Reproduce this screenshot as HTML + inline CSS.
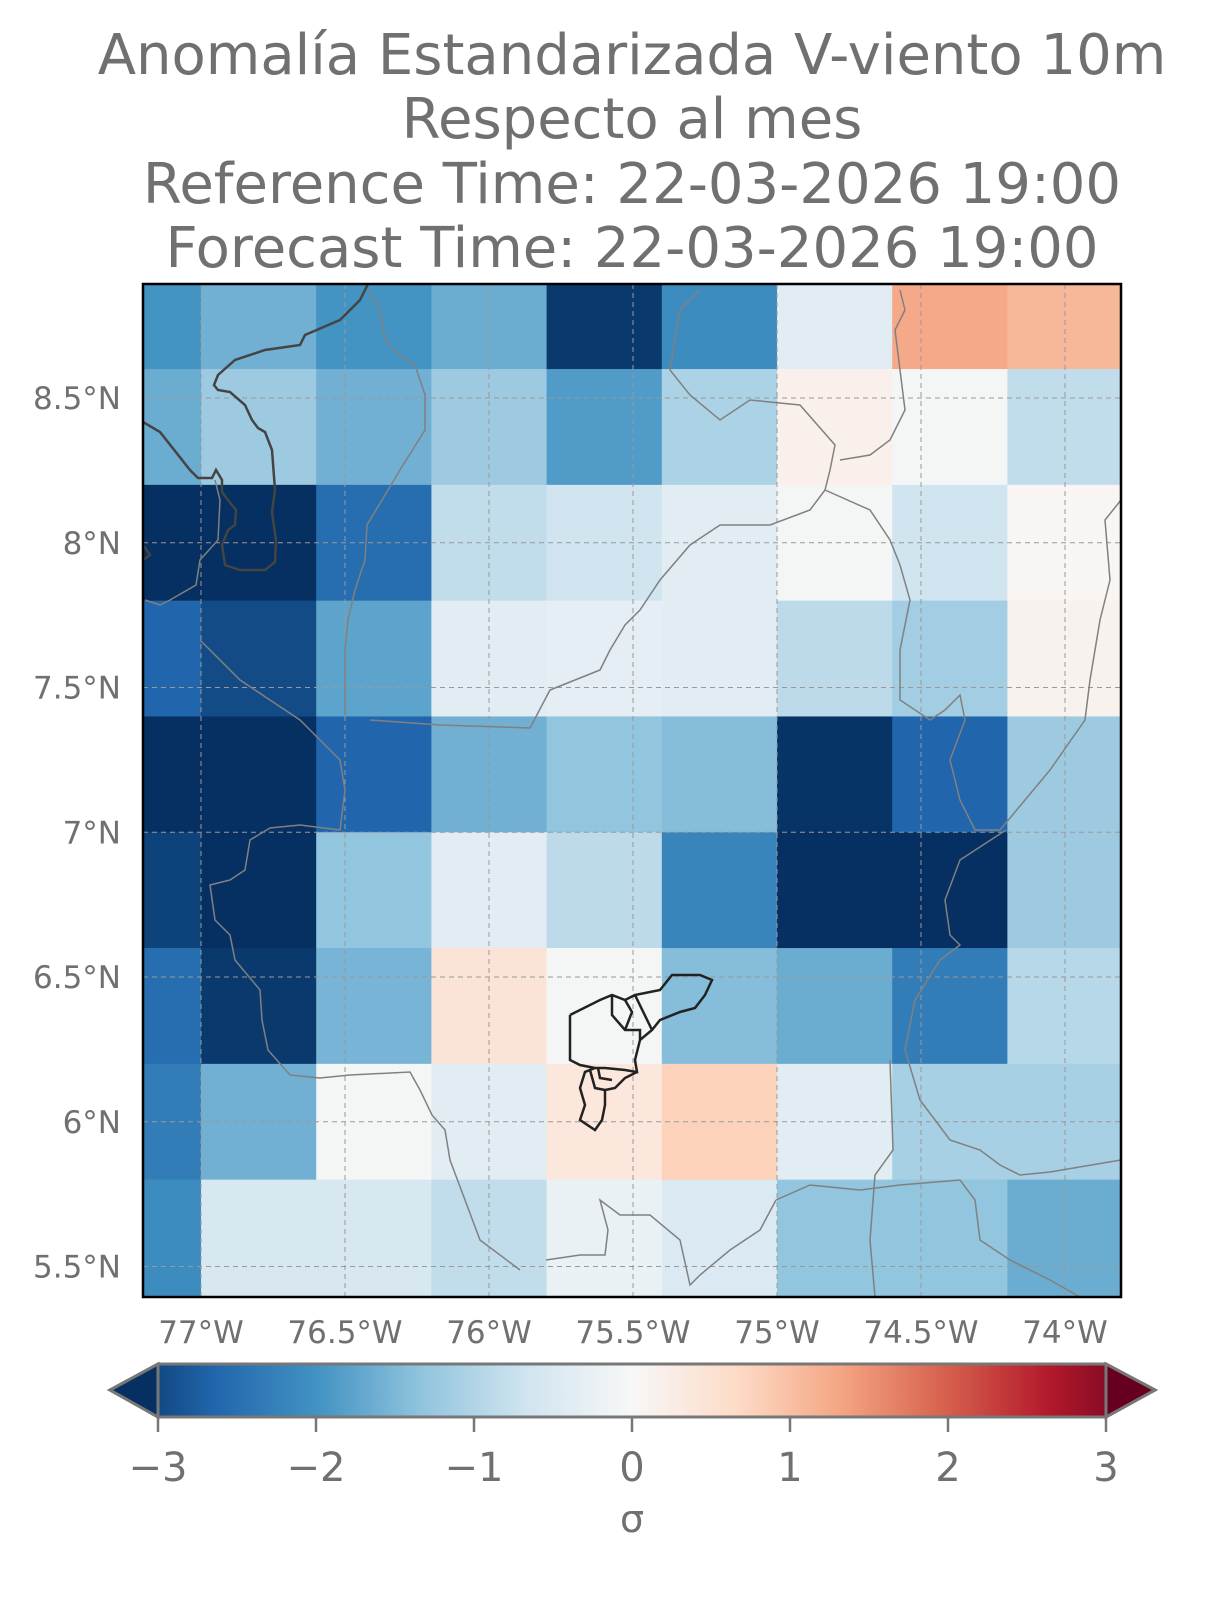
<!DOCTYPE html>
<html><head><meta charset="utf-8"><style>
html,body{margin:0;padding:0;background:#fff;}
svg{display:block;font-family:"DejaVu Sans","Liberation Sans",sans-serif;}
</style></head><body>
<svg id="chart" width="1230" height="1598" viewBox="0 0 1230 1598">
<defs>
<linearGradient id="cmap" x1="0" x2="1" y1="0" y2="0">
<stop offset="0" stop-color="#053061"/><stop offset="0.1" stop-color="#2166ac"/><stop offset="0.2" stop-color="#4393c3"/><stop offset="0.3" stop-color="#92c5de"/><stop offset="0.4" stop-color="#d1e5f0"/><stop offset="0.5" stop-color="#f7f7f7"/><stop offset="0.6" stop-color="#fddbc7"/><stop offset="0.7" stop-color="#f4a582"/><stop offset="0.8" stop-color="#d6604d"/><stop offset="0.9" stop-color="#b2182b"/><stop offset="1" stop-color="#67001f"/>
</linearGradient>
<clipPath id="mapclip"><rect x="143" y="284" width="978" height="1013"/></clipPath>
</defs>
<g fill="#707070" font-size="56" text-anchor="middle">
<text x="632" y="74">Anomalía Estandarizada V-viento 10m</text>
<text x="632" y="138">Respecto al mes</text>
<text x="632" y="203">Reference Time: 22-03-2026 19:00</text>
<text x="632" y="267">Forecast Time: 22-03-2026 19:00</text>
</g>
<g id="cells" clip-path="url(#mapclip)"></g>
<g id="grid" clip-path="url(#mapclip)"></g>
<g clip-path="url(#mapclip)" fill="none" stroke="#808080" stroke-width="1.5">
<path d="M143,422 L160,432 L190,470 L198,478 L212,478 L216,470 L222,480 L222,492 L228,500 L236,510 L235,525 L228,530 L222,545 L225,565 L240,570 L265,570 L275,562 L276,540 L272,512 L275,490 L272,450 L265,432 L258,428 L252,420 L245,405 L230,392 L218,390 L214,385 L218,375 L235,360 L265,350 L300,345 L305,335 L340,320 L360,300 L368,284" stroke="#444" stroke-width="2.5"/>
<path d="M143,545 L150,555 L143,560" stroke="#444" stroke-width="2.5"/>
<path d="M368,290 L380,310 L385,340 L400,355 L415,365 L425,395 L425,430 L400,470 L385,495 L367,525 L365,560 L355,590 L348,620 L345,650 L345,690 L345,715"/>
<path d="M215,480 L220,500 L218,540 L200,560 L196,585 L170,600 L160,605 L145,600"/>
<path d="M200,640 L240,680 L270,700 L300,720 L320,740 L340,760 L345,790 L340,830 L300,825 L270,828 L250,840 L245,870 L230,880 L210,885 L215,920 L230,935 L235,960 L260,990 L262,1020 L268,1050 L290,1075 L320,1078 L350,1075 L410,1072 L420,1090 L432,1115 L445,1130 L450,1160 L465,1200 L480,1240 L520,1270"/>
<path d="M370,720 L440,725 L530,728 L550,690 L600,670 L610,650 L625,625 L640,610 L660,580 L690,545 L720,525 L770,525 L810,510 L825,490 L830,470 L835,445 L800,405 L750,400 L720,420 L690,395 L670,370 L680,310 L700,290"/>
<path d="M825,490 L870,510 L890,540 L900,565 L910,600 L900,650 L900,700 L930,720 L945,710 L960,695 L965,720 L950,760 L960,800 L975,830 L1000,830 L1050,770 L1085,720 L1090,680 L1100,620 L1110,580 L1105,520 L1121,500"/>
<path d="M1006,830 L960,860 L945,900 L950,935 L960,945 L940,960 L915,1000 L905,1050 L920,1100 L950,1140 L980,1150 L1000,1165 L1020,1175 L1050,1172 L1121,1160"/>
<path d="M890,1060 L893,1150 L875,1175 L870,1240 L875,1297"/>
<path d="M776,1200 L810,1185 L860,1190 L900,1185 L960,1180 L975,1200 L980,1240 L1010,1260 L1050,1280 L1080,1297"/>
<path d="M546,1260 L580,1255 L605,1255 L608,1230 L600,1200 L620,1215 L650,1215 L680,1240 L690,1285 L700,1275 L730,1250 L760,1230 L776,1200"/>
<path d="M900,290 L905,310 L895,330 L900,370 L905,410 L890,440 L870,455 L840,460"/>
</g>
<g fill="none" stroke="#222" stroke-width="2.5">
<path d="M570,1015 L600,1000 L612,995 L625,1000 L635,995 L660,990 L672,975 L700,975 L712,980 L705,995 L695,1008 L680,1012 L660,1020 L652,1030 L640,1040 L635,1060 L637,1072 L625,1070 L605,1068 L595,1068 L585,1072 L580,1088 L585,1105 L580,1120 L595,1130 L602,1120 L605,1105 L605,1090 L615,1088 L625,1078 L637,1072 M570,1015 L570,1060 L580,1065 L595,1068 M612,995 L612,1015 L625,1030 L640,1030 L640,1040 M625,1000 L632,1012 L625,1030 M635,995 L652,1030 M590,1070 L595,1088 L605,1090 M598,1068 L600,1078 L612,1080"/>
</g>
<rect x="143" y="284" width="978" height="1013" fill="none" stroke="#000" stroke-width="2.5"/>
<g id="xticks" fill="#707070" font-size="31" text-anchor="middle"></g>
<g id="yticks" fill="#707070" font-size="31" text-anchor="end"></g>
<g>
<polygon points="158,1364 1106,1364 1155,1390 1106,1417 158,1417 110,1390" fill="url(#cmap)" stroke="#777" stroke-width="3"/>
<polygon points="158,1364 110,1390 158,1417" fill="#053061" stroke="#777" stroke-width="3"/>
<polygon points="1106,1364 1155,1390 1106,1417" fill="#67001f" stroke="#777" stroke-width="3"/>
<g id="cbticks" fill="#707070" font-size="40" text-anchor="middle"></g>
<text x="632" y="1532" fill="#707070" font-size="38" text-anchor="middle">σ</text>
</g>
</svg>
<script>
const lonEdges = [-77.4,-77.0,-76.6,-76.2,-75.8,-75.4,-75.0,-74.6,-74.2,-73.8];
const latEdges = [9.0,8.6,8.2,7.8,7.4,7.0,6.6,6.2,5.8,5.4];
const row0 = [-1.8,-1.45,-1.8,-1.5,-2.9,-1.9,-0.35,1.15,1.0];
const row1 = [-1.5,-1.1,-1.45,-1.1,-1.7,-0.95,0.15,-0.05,-0.75];
const row2 = [-3.0,-3.0,-2.3,-0.75,-0.6,-0.35,-0.05,-0.6,0.05];
const row3 = [-2.4,-2.7,-1.6,-0.35,-0.3,-0.35,-0.8,-1.05,0.1];
const row4 = [-3.0,-3.0,-2.4,-1.45,-1.2,-1.3,-2.95,-2.4,-1.1];
const row5 = [-2.8,-3.0,-1.2,-0.35,-0.8,-2.0,-3.0,-3.0,-1.1];
const row6 = [-2.3,-2.9,-1.4,0.4,-0.05,-1.3,-1.5,-2.1,-0.85];
const row7 = [-2.1,-1.45,-0.05,-0.35,0.35,0.7,-0.35,-1.0,-1.0];
const row8 = [-1.9,-0.5,-0.5,-0.75,-0.2,-0.45,-1.2,-1.2,-1.5];
const lonTicks = [-77,-76.5,-76,-75.5,-75,-74.5,-74];
const lonTickLabels = ["77°W","76.5°W","76°W","75.5°W","75°W","74.5°W","74°W"];
const latTicks = [8.5,8,7.5,7,6.5,6,5.5];
const latTickLabels = ["8.5°N","8°N","7.5°N","7°N","6.5°N","6°N","5.5°N"];
const cbTicks = [-3,-2,-1,0,1,2,3];
const cbTickLabels = ["−3","−2","−1","0","1","2","3"];

const NS="http://www.w3.org/2000/svg";
function xOf(lon){return 201+(lon+77)*288;}
function yOf(lat){return 398-(lat-8.5)*289.5;}
function cbX(v){return 158+(v+3)/6*948;}
const stops=["#053061","#2166ac","#4393c3","#92c5de","#d1e5f0","#f7f7f7","#fddbc7","#f4a582","#d6604d","#b2182b","#67001f"];
function hex(h){return [1,3,5].map(i=>parseInt(h.substr(i,2),16));}
function color(v){let t=Math.max(0,Math.min(1,(v+3)/6))*10;let i=Math.min(9,Math.floor(t));let f=t-i;
 let a=hex(stops[i]),b=hex(stops[i+1]);return "rgb("+a.map((c,k)=>Math.round(c+(b[k]-c)*f)).join(",")+")";}
const rows=[row0,row1,row2,row3,row4,row5,row6,row7,row8];
const cells=document.getElementById('cells');
rows.forEach((row,r)=>row.forEach((v,c)=>{
 const el=document.createElementNS(NS,'rect');
 const x0=xOf(lonEdges[c]),x1=xOf(lonEdges[c+1]),y0=yOf(latEdges[r]),y1=yOf(latEdges[r+1]);
 el.setAttribute('x',x0);el.setAttribute('y',y0);el.setAttribute('width',x1-x0+0.5);el.setAttribute('height',y1-y0+0.5);
 el.setAttribute('fill',color(v));
 
 
 cells.appendChild(el);
}));
const grid=document.getElementById('grid');
lonTicks.forEach((lon,i)=>{
 const l=document.createElementNS(NS,'line');
 l.setAttribute('x1',xOf(lon));l.setAttribute('x2',xOf(lon));l.setAttribute('y1',284);l.setAttribute('y2',1297);
 l.setAttribute('stroke','#999');l.setAttribute('stroke-dasharray','5,4');l.setAttribute('stroke-width','1');
 
 
 grid.appendChild(l);
 const t=document.createElementNS(NS,'text');
 t.setAttribute('x',xOf(lon));t.setAttribute('y',1343);t.textContent=lonTickLabels[i];
 
 
 document.getElementById('xticks').appendChild(t);
});
latTicks.forEach((lat,i)=>{
 const l=document.createElementNS(NS,'line');
 l.setAttribute('x1',143);l.setAttribute('x2',1121);l.setAttribute('y1',yOf(lat));l.setAttribute('y2',yOf(lat));
 l.setAttribute('stroke','#999');l.setAttribute('stroke-dasharray','5,4');l.setAttribute('stroke-width','1');
 
 
 grid.appendChild(l);
 const t=document.createElementNS(NS,'text');
 t.setAttribute('x',121);t.setAttribute('y',yOf(lat)+11);t.textContent=latTickLabels[i];
 
 
 document.getElementById('yticks').appendChild(t);
});
const cbt=document.getElementById('cbticks');
cbTicks.forEach((v,i)=>{
 const l=document.createElementNS(NS,'line');
 l.setAttribute('x1',cbX(v));l.setAttribute('x2',cbX(v));l.setAttribute('y1',1417);l.setAttribute('y2',1432);
 l.setAttribute('stroke','#777');l.setAttribute('stroke-width','2.5');
 
 
 cbt.appendChild(l);
 const t=document.createElementNS(NS,'text');
 t.setAttribute('x',cbX(v));t.setAttribute('y',1481);t.textContent=cbTickLabels[i];
 
 
 cbt.appendChild(t);
});
</script>
</body></html>
